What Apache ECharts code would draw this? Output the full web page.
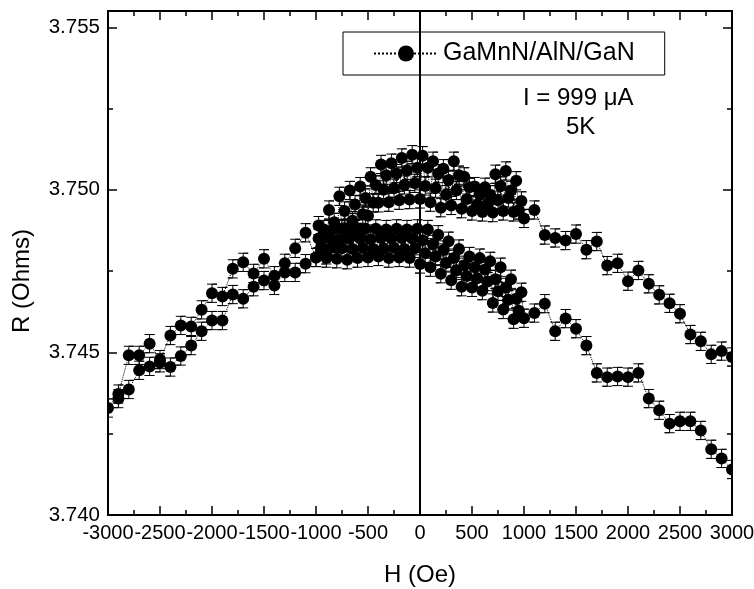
<!DOCTYPE html>
<html>
<head>
<meta charset="utf-8">
<title>GaMnN/AlN/GaN magnetoresistance</title>
<script src="https://cdn.jsdelivr.net/npm/echarts@6/dist/echarts.min.js"></script>
<style>
  html, body { margin: 0; padding: 0; background: #fff; }
  #chart { width: 754px; height: 589px; }
</style>
</head>
<body>
<div id="chart"></div>
<script>
// Field sweep +3000 -> -3000 Oe (first branch), then -3000 -> +3000 Oe (return branch).
// H in Oe, R in Ohms.

// Down sweep, high-field part on the positive side
const downHighH = [3000, 2900, 2800, 2700, 2600, 2500, 2400, 2300, 2200, 2100, 2000, 1900, 1800, 1700, 1600, 1500, 1400, 1300, 1200, 1100];
const downHighR = [3.74486, 3.74504, 3.74494, 3.74534, 3.74555, 3.74619, 3.74651, 3.74677, 3.74711, 3.74752, 3.74719, 3.74774, 3.74767, 3.74841, 3.74816, 3.74864, 3.74844, 3.74852, 3.74861, 3.74938];

// Down sweep, dense low-field part (1000 -> -1000 Oe)
const downLowH = [1000, 975, 950, 925, 900, 875, 850, 825, 800, 775, 750, 725, 700, 675, 650, 625, 600, 575, 550, 525, 500, 475, 450, 425, 400, 375, 350, 325, 300, 275, 250, 225, 200, 175, 150, 125, 100, 75, 50, 25, 0, -25, -50, -75, -100, -125, -150, -175, -200, -225, -250, -275, -300, -325, -350, -375, -400, -425, -450, -475, -500, -525, -550, -575, -600, -625, -650, -675, -700, -725, -750, -775, -800, -825, -850, -875, -900, -925, -950, -975, -1000];
const downLowR = [3.74912, 3.74966, 3.74938, 3.75028, 3.74932, 3.74998, 3.74975, 3.75058, 3.74935, 3.75012, 3.74968, 3.75048, 3.74930, 3.74985, 3.74958, 3.75008, 3.74932, 3.74985, 3.74955, 3.75010, 3.74935, 3.75008, 3.74972, 3.75040, 3.74942, 3.75045, 3.74998, 3.75088, 3.74952, 3.75030, 3.74985, 3.75065, 3.74945, 3.75050, 3.75005, 3.75088, 3.74962, 3.75068, 3.75012, 3.75105, 3.74972, 3.75068, 3.75020, 3.75108, 3.74970, 3.75060, 3.75015, 3.75098, 3.74968, 3.75050, 3.75005, 3.75082, 3.74962, 3.75045, 3.75000, 3.75078, 3.74960, 3.75015, 3.74960, 3.75040, 3.74920, 3.74975, 3.74925, 3.75010, 3.74880, 3.74955, 3.74905, 3.74998, 3.74852, 3.74935, 3.74880, 3.74980, 3.74822, 3.74900, 3.74848, 3.74938, 3.74800, 3.74860, 3.74825, 3.74890, 3.74792];

// Down sweep, negative high-field part
const downNegH = [-1100, -1200, -1300, -1400, -1500, -1600, -1700, -1800, -1900, -2000, -2100, -2200, -2300, -2400, -2500, -2600, -2700, -2800, -2900, -3000];
const downNegR = [3.74868, 3.74820, 3.74774, 3.74736, 3.74788, 3.74743, 3.74777, 3.74757, 3.74672, 3.74682, 3.74631, 3.74580, 3.74583, 3.74552, 3.74478, 3.74527, 3.74491, 3.74491, 3.74372, 3.74329];

// Return sweep, negative high-field part
const upNegH = [-2900, -2800, -2700, -2600, -2500, -2400, -2300, -2200, -2100, -2000, -1900, -1800, -1700, -1600, -1500, -1400, -1300, -1200, -1100];
const upNegR = [3.74358, 3.74386, 3.74445, 3.74457, 3.74468, 3.74455, 3.74489, 3.74521, 3.74565, 3.74598, 3.74598, 3.74678, 3.74665, 3.74702, 3.74721, 3.74706, 3.74746, 3.74746, 3.74773];

// Return sweep, dense low-field part (-1000 -> 1000 Oe)
const upLowH = [-1000, -975, -950, -925, -900, -875, -850, -825, -800, -775, -750, -725, -700, -675, -650, -625, -600, -575, -550, -525, -500, -475, -450, -425, -400, -375, -350, -325, -300, -275, -250, -225, -200, -175, -150, -125, -100, -75, -50, -25, 0, 25, 50, 75, 100, 125, 150, 175, 200, 225, 250, 275, 300, 325, 350, 375, 400, 425, 450, 475, 500, 525, 550, 575, 600, 625, 650, 675, 700, 725, 750, 775, 800, 825, 850, 875, 900, 925, 950, 975, 1000];
const upLowR = [3.74792, 3.74850, 3.74818, 3.74878, 3.74790, 3.74852, 3.74822, 3.74880, 3.74788, 3.74848, 3.74820, 3.74882, 3.74785, 3.74852, 3.74818, 3.74878, 3.74790, 3.74850, 3.74822, 3.74880, 3.74792, 3.74848, 3.74818, 3.74880, 3.74795, 3.74852, 3.74820, 3.74878, 3.74790, 3.74850, 3.74822, 3.74880, 3.74792, 3.74852, 3.74818, 3.74878, 3.74790, 3.74850, 3.74820, 3.74880, 3.74772, 3.74845, 3.74805, 3.74878, 3.74762, 3.74832, 3.74795, 3.74862, 3.74742, 3.74815, 3.74775, 3.74842, 3.74722, 3.74790, 3.74752, 3.74818, 3.74702, 3.74768, 3.74735, 3.74795, 3.74700, 3.74762, 3.74728, 3.74790, 3.74690, 3.74755, 3.74718, 3.74780, 3.74652, 3.74725, 3.74688, 3.74762, 3.74632, 3.74700, 3.74662, 3.74725, 3.74602, 3.74665, 3.74628, 3.74685, 3.74605];

// Return sweep, positive high-field part
const upHighH = [1100, 1200, 1300, 1400, 1500, 1600, 1700, 1800, 1900, 2000, 2100, 2200, 2300, 2400, 2500, 2600, 2700, 2800, 2900, 3000];
const upHighR = [3.74621, 3.74650, 3.74565, 3.74604, 3.74573, 3.74521, 3.74437, 3.74424, 3.74426, 3.74424, 3.74437, 3.74358, 3.74322, 3.74281, 3.74288, 3.74288, 3.74260, 3.74202, 3.74174, 3.74140];

// Half height of the error bars (Ohms)
const errHalf = 0.00028;

const seriesName = 'GaMnN/AlN/GaN';
const noteLines = ['I = 999 μA', '5K'];
const xTicks = { min: -3000, max: 3000, step: 500 };
const yTicks = { min: 3.740, max: 3.7555, step: 0.005 };

// Join the segments into one ordered measurement path
function pairs(hs, rs) { return hs.map((h, i) => [h, rs[i]]); }
const path = [].concat(
  pairs(downHighH, downHighR),
  pairs(downLowH, downLowR),
  pairs(downNegH, downNegR),
  pairs(upNegH, upNegR),
  pairs(upLowH, upLowR),
  pairs(upHighH, upHighR)
);

const FONT = '"Liberation Sans", Arial, Helvetica, sans-serif';
const chart = echarts.init(document.getElementById('chart'));

function xAxisDef(pos, labels) {
  return {
    type: 'value', position: pos,
    min: xTicks.min, max: xTicks.max, interval: xTicks.step,
    axisLine: { show: true, onZero: false, lineStyle: { color: '#000', width: 2 } },
    axisTick: { show: true, inside: true, length: 9, lineStyle: { color: '#000', width: 1.5 } },
    minorTick: { show: true, splitNumber: 2, length: 5, lineStyle: { color: '#000', width: 1.5 } },
    splitLine: { show: false },
    axisLabel: labels ? {
      show: true, interval: 0, margin: 8, showMinLabel: true, showMaxLabel: true,
      color: '#000', fontSize: 20, fontFamily: FONT,
      formatter: v => String(v)
    } : { show: false },
    name: labels ? 'H (Oe)' : '',
    nameLocation: 'middle', nameGap: 48,
    nameTextStyle: { color: '#000', fontSize: 24, fontFamily: FONT }
  };
}
function yAxisDef(pos, labels) {
  return {
    type: 'value', position: pos,
    min: yTicks.min, max: yTicks.max, interval: yTicks.step,
    axisLine: { show: true, onZero: false, lineStyle: { color: '#000', width: 2 } },
    axisTick: { show: true, inside: true, length: 9, lineStyle: { color: '#000', width: 1.5 } },
    minorTick: { show: true, splitNumber: 2, length: 5, lineStyle: { color: '#000', width: 1.5 } },
    splitLine: { show: false },
    axisLabel: labels ? {
      show: true, margin: 8, showMaxLabel: false,
      color: '#000', fontSize: 20.5, fontFamily: FONT,
      formatter: v => v.toFixed(3)
    } : { show: false },
    name: labels ? 'R (Ohms)' : '',
    nameLocation: 'middle', nameGap: 74,
    nameTextStyle: { color: '#000', fontSize: 24, fontFamily: FONT, padding: [0, 36, 0, 0] }
  };
}

// clip each item's drawing to the plot frame
function clipped(params, child) {
  const cs = params.coordSys;
  return {
    type: 'group',
    clipPath: { type: 'rect', shape: { x: cs.x, y: cs.y, width: cs.width, height: cs.height } },
    children: [child]
  };
}

const noteStyle = { color: '#000', fontSize: 24, fontWeight: 'normal', fontFamily: FONT };

const option = {
  animation: false,
  grid: { left: 108, right: 22, top: 11, bottom: 74, outerBoundsMode: 'none' },
  xAxis: [xAxisDef('bottom', true), xAxisDef('top', false)],
  yAxis: [yAxisDef('left', true), yAxisDef('right', false)],
  title: [
    { text: noteLines[0], left: 523, top: 86, padding: 0, textStyle: noteStyle },
    { text: noteLines[1], left: 566, top: 115, padding: 0, textStyle: noteStyle }
  ],
  legend: {
    data: [seriesName],
    left: 343, top: 32,
    itemWidth: 64, itemHeight: 20,
    padding: [9, 30, 9, 30],
    borderColor: '#000', borderWidth: 1,
    selectedMode: false,
    textStyle: { color: '#000', fontSize: 25, fontFamily: FONT }
  },
  series: [
    {
      // dotted connecting line; also provides the legend entry
      name: seriesName,
      type: 'line',
      data: path,
      symbol: 'circle', symbolSize: 12, showSymbol: false,
      color: '#000',
      lineStyle: { color: '#000', width: 1, type: 'dotted' },
      clip: true,
      markLine: {
        silent: true, symbol: 'none',
        label: { show: false },
        lineStyle: { color: '#000', type: 'solid', width: 2 },
        data: [{ xAxis: 0 }]
      }
    },
    {
      // error bars with end caps
      name: 'errors',
      type: 'custom',
      data: path,
      encode: { x: 0, y: 1 },
      renderItem: function (params, api) {
        const h = api.value(0), r = api.value(1);
        const x = api.coord([h, r])[0];
        const yt = api.coord([h, r + errHalf])[1];
        const yb = api.coord([h, r - errHalf])[1];
        const cap = 5;
        return clipped(params, {
          type: 'polyline',
          shape: { points: [[x - cap, yt], [x + cap, yt], [x, yt], [x, yb], [x - cap, yb], [x + cap, yb]] },
          style: { stroke: '#000', fill: null, lineWidth: 1 }
        });
      }
    },
    {
      // filled circle markers
      name: 'points',
      type: 'custom',
      data: path,
      encode: { x: 0, y: 1 },
      renderItem: function (params, api) {
        const c = api.coord([api.value(0), api.value(1)]);
        return clipped(params, { type: 'circle', shape: { cx: c[0], cy: c[1], r: 6 }, style: { fill: '#000' } });
      }
    }
  ]
};

chart.setOption(option);
</script>
</body>
</html>
